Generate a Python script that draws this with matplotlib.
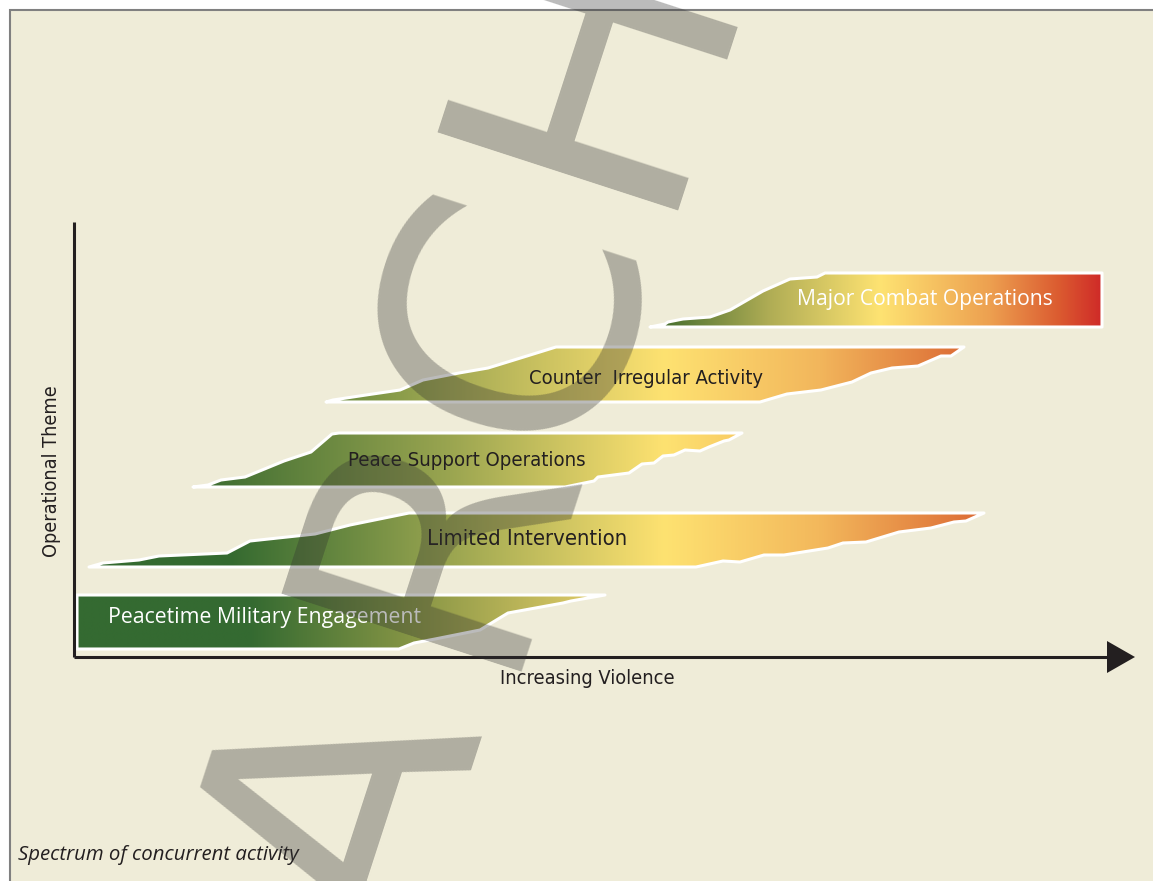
import numpy as np
import matplotlib
matplotlib.use("Agg")
from matplotlib import pyplot as plt
from matplotlib.patches import Polygon, Rectangle
from matplotlib.colors import to_rgb

W, H = 1153, 881
bg = "#efecd8"
ink = "#231f20"
font = "Open Sans"
narrow = "DejaVu Sans"

# band outlines (x = violence, y = down the page)
pme_x = [77, 605, 571, 563, 508, 480, 435, 414, 399, 77]
pme_y = [595, 595, 601, 603, 613, 630, 639, 643, 649, 649]

li_x = [89, 103, 139, 159, 227, 250, 315, 350, 409, 984, 966, 954, 931, 899, 866,
        843, 828, 784, 764, 740, 723, 696]
li_y = [567, 563, 560, 556, 553, 541, 534, 525, 513, 513, 521, 522, 528, 532, 542,
        543, 548, 555, 555, 562, 561, 567]

pso_x = [193, 208, 221, 245, 284, 311, 332, 339, 742, 729, 724, 709, 700, 685, 674,
         663, 654, 642, 629, 598, 594, 565]
pso_y = [487, 485, 480, 477, 461, 452, 434, 433, 433, 440, 441, 447, 451, 450, 455,
         456, 463, 464, 473, 477, 481, 487]

cia_x = [326, 333, 366, 400, 423, 459, 488, 514, 556, 964, 951, 941, 918, 892, 871,
         852, 821, 787, 760]
cia_y = [402, 400, 395, 390, 380, 373, 368, 360, 347, 347, 356, 356, 366, 368, 373,
         382, 390, 394, 402]

mco_x = [650, 665, 668, 683, 710, 730, 763, 790, 817, 825, 1102, 1102]
mco_y = [327, 324, 322, 319, 317, 310, 291, 279, 277, 273, 273, 327]

# colour stops along x for each band
pme_stops = [(250, "#346a31"), (420, "#8a9746"), (605, "#e3cd68")]
li_stops = [(230, "#346a30"), (450, "#9aa550"), (665, "#fee271"), (820, "#f3b85c"), (984, "#dc6a34")]
pso_stops = [(200, "#3a6b31"), (450, "#9aa550"), (665, "#fee271"), (742, "#f8cb64")]
cia_stops = [(326, "#678a3d"), (450, "#a4aa54"), (665, "#fee271"), (820, "#f2b65c"), (964, "#dc6c35")]
mco_stops = [(665, "#497030"), (770, "#b0ad55"), (880, "#fee372"), (990, "#eda050"), (1060, "#db5a30"), (1102, "#cf2a28")]

bands = [
    ("Peacetime Military Engagement", pme_x, pme_y, pme_stops, 108, 617, "white", font, 15.3, "normal"),
    ("Limited Intervention", li_x, li_y, li_stops, 427, 539, ink, narrow, 15.8, "condensed"),
    ("Peace Support Operations", pso_x, pso_y, pso_stops, 348, 461, ink, narrow, 14.6, "condensed"),
    ("Counter  Irregular Activity", cia_x, cia_y, cia_stops, 529, 379, ink, narrow, 14.5, "condensed"),
    ("Major Combat Operations", mco_x, mco_y, mco_stops, 797, 299, "white", font, 15.2, "normal"),
]

# watermark letters and their centres
wm_letters = ["A", "R", "C", "H"]
wm_cx = [325, 405, 490, 565]
wm_cy = [805, 517, 306, 47]
wm_size = 250
wm_rot = 72

fig = plt.figure(figsize=(W / 100, H / 100), dpi=100, facecolor="white")
ax = fig.add_axes([0, 0, 1, 1])
ax.axis("off")

ax.add_patch(Rectangle((10, 10), W, H, fc=bg, ec="#808080", lw=1.5, zorder=0))

for label, xs, ys, stops, tx, ty, tc, fam, fs, st in bands:
    poly = Polygon(np.column_stack([xs, ys]), closed=True, fc="none", ec="white",
                   lw=2.2, zorder=3, joinstyle="round")
    ax.add_patch(poly)
    x0, x1 = min(xs), max(xs)
    gx = np.linspace(x0, x1, 600)
    sx = [s[0] for s in stops]
    cols = np.array([to_rgb(s[1]) for s in stops])
    img = np.stack([np.interp(gx, sx, cols[:, k]) for k in range(3)], axis=-1)[None, :, :]
    im = ax.imshow(img, extent=[x0, x1, max(ys), min(ys)], aspect="auto",
                   interpolation="bilinear", zorder=2)
    im.set_clip_path(poly)
    ax.text(tx, ty, label, color=tc, family=fam, fontsize=fs, fontstretch=st,
            ha="left", va="center", zorder=4)

# axes with arrow
ax.plot([74, 74], [222, 657], color=ink, lw=2.2, zorder=5, solid_capstyle="butt")
ax.plot([74, 1110], [657, 657], color=ink, lw=2.2, zorder=5, solid_capstyle="butt")
ax.add_patch(Polygon([(1107, 641), (1135, 657), (1107, 673)], closed=True, fc=ink, ec="none", zorder=5))

ax.text(500, 678, "Increasing Violence", color=ink, family=narrow, fontstretch="condensed",
        fontsize=14.3, ha="left", va="center")
ax.text(52, 471, "Operational Theme", color=ink, family=narrow, fontstretch="condensed",
        fontsize=14.2, rotation=90, ha="center", va="center")
ax.text(18, 855, "Spectrum of concurrent activity", color=ink, family=font, fontsize=14.7,
        style="italic", ha="left", va="center")

# watermark, one letter at a time so the spacing follows the picture
cap = 0.729 * wm_size * 100 / 72
down = np.array([np.sin(np.radians(wm_rot)), np.cos(np.radians(wm_rot))])
for ch, cx, cy in zip(wm_letters, wm_cx, wm_cy):
    bx, by = np.array([cx, cy]) + down * cap / 2
    ax.text(bx, by, ch, color="#303030", alpha=0.33, family="DejaVu Sans", fontsize=wm_size,
            rotation=wm_rot, rotation_mode="anchor", ha="center", va="baseline", zorder=10)

ax.set_xlim(0, W)
ax.set_ylim(H, 0)
fig.savefig("out.png", dpi=100, facecolor="white")
